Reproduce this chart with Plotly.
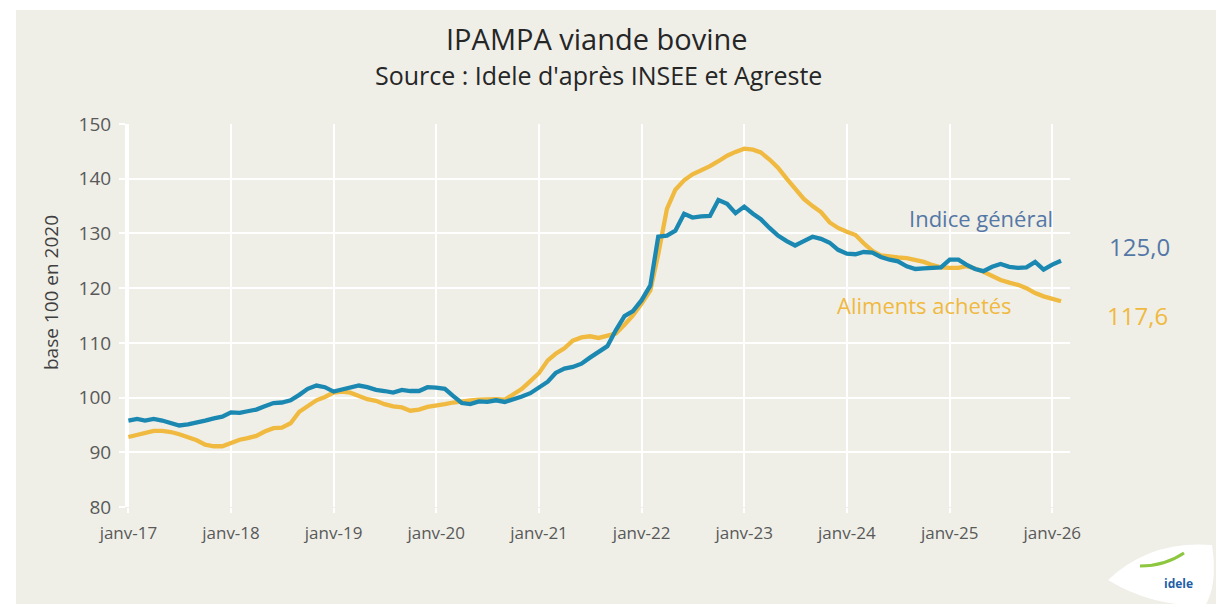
import pandas as pd
import plotly.graph_objects as go

# ---- data (monthly, Jan 2017 -> Feb 2026) ----
start_month = "2017-01-01"
indice_general = [
    95.8, 96.1, 95.8, 96.1, 95.8, 95.3, 94.9, 95.1, 95.4, 95.8, 96.2, 96.5,
    97.3, 97.2, 97.5, 97.8, 98.4, 99.0, 99.1, 99.5, 100.5, 101.6, 102.2, 101.9,
    101.1, 101.5, 101.8, 102.2, 101.9, 101.4, 101.2, 100.9, 101.4, 101.2, 101.2, 101.9,
    101.8, 101.6, 100.3, 99.0, 98.8, 99.3, 99.2, 99.5, 99.2, 99.6, 100.2, 100.8,
    101.9, 102.9, 104.5, 105.3, 105.6, 106.2, 107.3, 108.3, 109.4, 112.3, 114.9, 115.8,
    117.8, 120.5, 129.4, 129.6, 130.5, 133.6, 132.9, 133.1, 133.2, 136.1, 135.4, 133.7,
    134.9, 133.6, 132.6, 131.0, 129.6, 128.6, 127.8, 128.6, 129.4, 129.0, 128.3, 127.0,
    126.3, 126.2, 126.6, 126.5, 125.7, 125.2, 124.9, 124.0, 123.5, 123.6, 123.7, 123.8,
    125.2, 125.2, 124.3, 123.5, 123.1, 123.9, 124.4, 123.9, 123.7, 123.8, 124.8, 123.4,
    124.3, 125.0,
]
aliments_achetes = [
    92.8, 93.2, 93.5, 93.9, 93.9, 93.7, 93.3, 92.8, 92.2, 91.4, 91.1, 91.1,
    91.8, 92.3, 92.6, 93.0, 93.8, 94.4, 94.5, 95.3, 97.4, 98.5, 99.5, 100.1,
    100.9, 101.1, 100.9, 100.3, 99.7, 99.4, 98.8, 98.4, 98.2, 97.6, 97.8, 98.3,
    98.5, 98.8, 99.1, 99.4, 99.5, 99.6, 99.7, 99.7, 99.6, 100.6, 101.6, 103.0,
    104.5, 106.8, 108.0, 109.0, 110.4, 111.0, 111.2, 110.9, 111.3, 111.7, 113.3, 115.0,
    117.2, 119.6, 126.2, 134.5, 138.0, 139.7, 140.8, 141.5, 142.3, 143.2, 144.2, 144.9,
    145.5, 145.3, 144.8, 143.5, 142.0, 140.0, 138.2, 136.3, 135.0, 133.9, 132.0, 131.0,
    130.3, 129.7, 128.2, 126.8, 126.0, 125.7, 125.6, 125.5, 125.2, 124.8, 124.2, 123.8,
    123.7, 123.7, 124.0, 123.6, 123.0, 122.2, 121.5, 121.0, 120.6, 120.0, 119.1, 118.5,
    118.0, 117.6,
]
tick_years = [2017, 2018, 2019, 2020, 2021, 2022, 2023, 2024, 2025, 2026]
tick_labels = ["janv-17", "janv-18", "janv-19", "janv-20", "janv-21",
               "janv-22", "janv-23", "janv-24", "janv-25", "janv-26"]
y_ticks = [80, 90, 100, 110, 120, 130, 140, 150]
last_general_label = "125,0"
last_aliments_label = "117,6"

months = pd.date_range(start_month, periods=len(indice_general), freq="MS")
tick_vals = [pd.Timestamp(f"{y}-01-01") for y in tick_years]

BLUE = "#1B88B2"
YELLOW = "#F0B93F"
BG = "#EFEFE8"
FONT = "Open Sans"

fig = go.Figure()
fig.add_trace(go.Scatter(x=months, y=aliments_achetes, mode="lines",
                         line=dict(color=YELLOW, width=4.3), name="Aliments achetés"))
fig.add_trace(go.Scatter(x=months, y=indice_general, mode="lines",
                         line=dict(color=BLUE, width=4.3), name="Indice général"))

W, H = 1228, 614
ml, mr, mt, mb = 127, 158, 124, 107
pw, ph = W - ml - mr, H - mt - mb

def px(x):
    return (x - ml) / pw

def py(y):
    return (H - mb - y) / ph

shapes = [
    # white outer frame + beige panel
    dict(type="rect", xref="paper", yref="paper", x0=px(0), x1=px(W), y0=py(H), y1=py(0),
         fillcolor="white", line=dict(width=0), layer="below"),
    dict(type="rect", xref="paper", yref="paper", x0=px(16), x1=px(W - 12), y0=py(H - 10), y1=py(10),
         fillcolor=BG, line=dict(width=0), layer="below"),
    # logo plate
    dict(type="path", xref="paper", yref="paper",
         path=(f"M {px(1108)},{py(580)} Q {px(1150)},{py(540)} {px(1212)},{py(545)} "
               f"Q {px(1218)},{py(585)} {px(1205)},{py(606)} Q {px(1150)},{py(606)} {px(1108)},{py(580)} Z"),
         fillcolor="white", line=dict(width=0), layer="above"),
    dict(type="path", xref="paper", yref="paper",
         path=f"M {px(1140)},{py(566)} Q {px(1165)},{py(566)} {px(1184)},{py(553)}",
         line=dict(color="#8DC63F", width=3), layer="above"),
]

annotations = [
    dict(text="IPAMPA viande bovine", x=px(597), y=py(38), xref="paper", yref="paper",
         showarrow=False, font=dict(family=FONT, size=29, color="#262626"), xanchor="center", yanchor="middle"),
    dict(text="Source : Idele d'après INSEE et Agreste", x=px(598), y=py(75), xref="paper", yref="paper",
         showarrow=False, font=dict(family=FONT, size=25, color="#262626"), xanchor="center", yanchor="middle"),
    dict(text="base 100 en 2020", x=px(51), y=py(293), xref="paper", yref="paper", textangle=-90,
         showarrow=False, font=dict(family=FONT, size=19, color="#404040"), xanchor="center", yanchor="middle"),
    dict(text="Indice général", x=px(981), y=py(218), xref="paper", yref="paper",
         showarrow=False, font=dict(family=FONT, size=22, color="#5577A6"), xanchor="center", yanchor="middle"),
    dict(text=last_general_label, x=px(1139), y=py(246), xref="paper", yref="paper",
         showarrow=False, font=dict(family=FONT, size=24, color="#5577A6"), xanchor="center", yanchor="middle"),
    dict(text="Aliments achetés", x=px(924), y=py(305), xref="paper", yref="paper",
         showarrow=False, font=dict(family=FONT, size=22, color=YELLOW), xanchor="center", yanchor="middle"),
    dict(text=last_aliments_label, x=px(1137), y=py(315), xref="paper", yref="paper",
         showarrow=False, font=dict(family=FONT, size=24, color=YELLOW), xanchor="center", yanchor="middle"),
    dict(text="<b>idele</b>", x=px(1178), y=py(583), xref="paper", yref="paper",
         showarrow=False, font=dict(family=FONT, size=12, color="#1F5FA8"), xanchor="center", yanchor="middle"),
]

fig.update_layout(
    width=W, height=H,
    margin=dict(l=ml, r=mr, t=mt, b=mb),
    paper_bgcolor=BG, plot_bgcolor=BG,
    showlegend=False,
    shapes=shapes,
    annotations=annotations,
    font=dict(family=FONT, color="#595959"),
)
fig.update_xaxes(
    type="date",
    range=[pd.Timestamp("2016-12-27"), pd.Timestamp("2026-03-05")],
    tickvals=tick_vals, ticktext=tick_labels,
    showgrid=True, gridcolor="white", gridwidth=2,
    ticks="outside", ticklen=5, tickcolor="white", tickwidth=2,
    ticklabelstandoff=6,
    tickfont=dict(family=FONT, size=17, color="#595959"),
    showline=False, zeroline=False,
)
fig.update_yaxes(
    range=[80, 150], tickvals=y_ticks,
    showgrid=True, gridcolor="white", gridwidth=2,
    ticks="outside", ticklen=6, tickcolor="white", tickwidth=2,
    ticklabelstandoff=4,
    tickfont=dict(family=FONT, size=19, color="#595959"),
    showline=True, linecolor="white", linewidth=2, zeroline=False,
)

fig.write_html("out.html", config={"displayModeBar": False},
               post_script="document.body.style.margin='0';document.body.style.overflow='hidden';")
